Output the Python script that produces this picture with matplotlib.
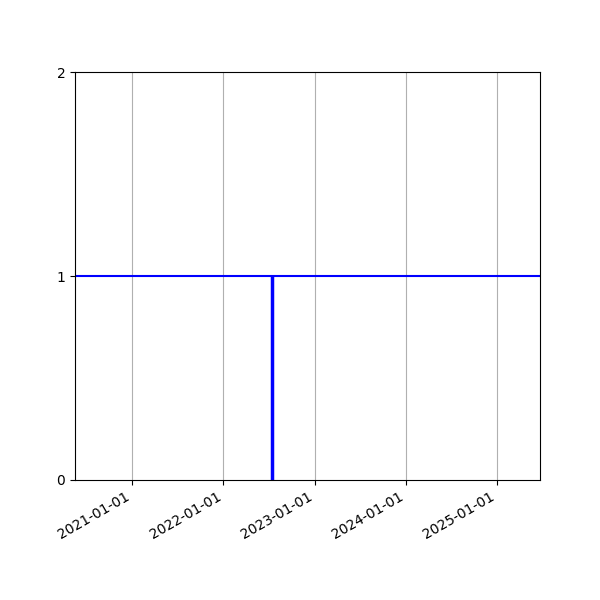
import datetime as dt

import matplotlib
matplotlib.use("Agg")
import matplotlib.dates as mdates
import matplotlib.pyplot as plt

# data
x_range = [dt.date(2020, 5, 17), dt.date(2025, 6, 21)]
level = 1
event_date = dt.date(2022, 7, 14)
event_span = [0, 1]
y_ticks = [0, 1, 2]

fig, ax = plt.subplots(figsize=(6, 6), dpi=100)

ax.axhline(level, color="blue", linewidth=1.5)
ax.vlines(event_date, event_span[0], event_span[1], color="blue", linewidth=2.5)

ax.set_xlim(x_range)
ax.set_ylim(y_ticks[0], y_ticks[-1])
ax.set_yticks(y_ticks)
ax.xaxis.set_major_locator(mdates.YearLocator())
ax.xaxis.set_major_formatter(mdates.DateFormatter("%Y-%m-%d"))
ax.grid(True, axis="x")
fig.autofmt_xdate()

fig.savefig("out.png", dpi=100)
